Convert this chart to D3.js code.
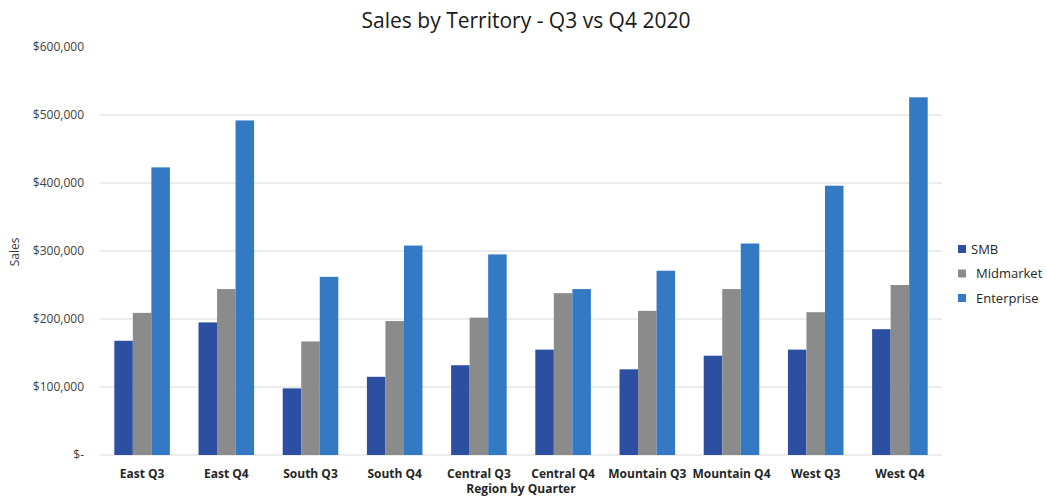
<!DOCTYPE html>
<html>
<head>
<meta charset="utf-8">
<script src="https://cdn.jsdelivr.net/npm/d3@7"></script>
<style>
  body { margin: 0; background: #fff; }
  text { font-family: "Open Sans", "Noto Sans", sans-serif; }
</style>
</head>
<body>
<div id="chart"></div>
<script>
// values
const categories = ['East Q3', 'East Q4', 'South Q3', 'South Q4', 'Central Q3', 'Central Q4',
                    'Mountain Q3', 'Mountain Q4', 'West Q3', 'West Q4'];
const seriesNames = ['SMB', 'Midmarket', 'Enterprise'];
const smb        = [168000, 195000,  98000, 115000, 132000, 155000, 126000, 146000, 155000, 185000];
const midmarket  = [209000, 244000, 167000, 197000, 202000, 238000, 212000, 244000, 210000, 250000];
const enterprise = [423000, 492000, 262000, 308000, 295000, 244000, 271000, 311000, 396000, 526000];
const yTicks = [0, 100000, 200000, 300000, 400000, 500000, 600000];

const COLORS = { SMB: '#2c4fa2', Midmarket: '#8b8b8b', Enterprise: '#3479c4' };

const WIDTH = 1047, HEIGHT = 498;
const MARGIN = {top: 47, right: 105, bottom: 43, left: 100};

const data = categories.map((c, i) => ({
    category: c,
    SMB: smb[i],
    Midmarket: midmarket[i],
    Enterprise: enterprise[i]
}));

const svg = d3.select('#chart')
    .append('svg')
    .attr('width', WIDTH)
    .attr('height', HEIGHT);

const x0 = d3.scaleBand()
    .domain(categories)
    .range([MARGIN.left, WIDTH - MARGIN.right])
    .paddingInner(0.34)
    .paddingOuter(0.17);

const x1 = d3.scaleBand()
    .domain(seriesNames)
    .range([0, x0.bandwidth()]);

const y = d3.scaleLinear()
    .domain([0, 600000])
    .range([HEIGHT - MARGIN.bottom, MARGIN.top]);

// gridlines (top one is not drawn in the original)
svg.append('g')
    .selectAll('line')
    .data(yTicks.filter(t => t < 600000))
    .join('line')
    .attr('x1', MARGIN.left)
    .attr('x2', WIDTH - MARGIN.right)
    .attr('y1', d => y(d))
    .attr('y2', d => y(d))
    .attr('stroke', '#d9d9d9')
    .attr('stroke-width', 1);

// y axis labels
const fmt = d => d === 0 ? '$-' : '$' + d3.format(',')(d);
const yAxis = d3.axisLeft(y).tickValues(yTicks).tickFormat(fmt).tickSize(0).tickPadding(16);
svg.append('g')
    .attr('transform', `translate(${MARGIN.left},0)`)
    .call(yAxis)
    .call(g => g.select('.domain').remove())
    .selectAll('text')
    .attr('font-family', '"Open Sans", "Noto Sans", sans-serif')
    .attr('font-size', 12)
    .attr('fill', '#404040');

// bars
svg.append('g')
    .selectAll('g')
    .data(data)
    .join('g')
    .attr('transform', d => `translate(${x0(d.category)},0)`)
    .selectAll('rect')
    .data(d => seriesNames.map(k => ({key: k, value: d[k]})))
    .join('rect')
    .attr('x', d => x1(d.key))
    .attr('width', x1.bandwidth())
    .attr('y', d => y(d.value))
    .attr('height', d => y(0) - y(d.value))
    .attr('fill', d => COLORS[d.key]);

// x axis labels
const xAxis = d3.axisBottom(x0).tickSize(0).tickPadding(14);
svg.append('g')
    .attr('transform', `translate(0,${y(0)})`)
    .call(xAxis)
    .call(g => g.select('.domain').remove())
    .selectAll('text')
    .attr('font-family', '"Open Sans", "Noto Sans", sans-serif')
    .attr('font-size', 12)
    .attr('font-weight', 'bold')
    .attr('fill', '#262626');

// title
svg.append('text')
    .attr('x', 526)
    .attr('y', 28)
    .attr('text-anchor', 'middle')
    .attr('font-size', 21)
    .attr('fill', '#1a1a1a')
    .text('Sales by Territory - Q3 vs Q4 2020');

// axis titles
svg.append('text')
    .attr('x', 521)
    .attr('y', 493)
    .attr('text-anchor', 'middle')
    .attr('font-size', 12)
    .attr('font-weight', 'bold')
    .attr('fill', '#262626')
    .text('Region by Quarter');

svg.append('text')
    .attr('transform', 'translate(19,252) rotate(-90)')
    .attr('text-anchor', 'middle')
    .attr('font-size', 12)
    .attr('fill', '#404040')
    .text('Sales');

// legend
const legend = svg.append('g')
    .selectAll('g')
    .data(seriesNames)
    .join('g')
    .attr('transform', (d, i) => `translate(958,${249 + i * 24.5})`);

legend.append('rect')
    .attr('x', 0)
    .attr('y', -4)
    .attr('width', 8)
    .attr('height', 8)
    .attr('fill', d => COLORS[d]);

legend.append('text')
    .attr('x', (d, i) => i === 0 ? 13 : 18)
    .attr('y', 0)
    .attr('dy', '0.35em')
    .attr('font-size', 13)
    .attr('fill', '#262626')
    .text(d => d);
</script>
</body>
</html>
